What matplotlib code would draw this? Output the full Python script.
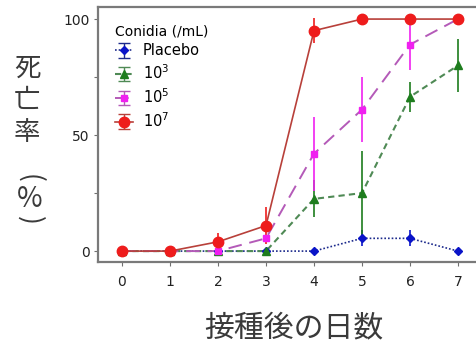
import matplotlib

matplotlib.use("Agg")
import matplotlib.pyplot as plt
import numpy as np

days = [0, 1, 2, 3, 4, 5, 6, 7]

placebo = [0, 0, 0, 0, 0, 5.5, 5.5, 0]
placebo_err = [0, 0, 0, 0, 0, 3.5, 3.5, 0]
c1e3 = [0, 0, 0, 0, 22.5, 25, 66.5, 80]
c1e3_err = [0, 0, 0, 0, 8, 18, 6.5, 11.5]
c1e5 = [0, 0, 0, 5.5, 42, 61, 89, 100]
c1e5_err = [0, 0, 0, 0, 16, 14, 11, 0]
c1e7 = [0, 0, 4, 11, 95, 100, 100, 100]
c1e7_err = [0, 0, 4, 8, 5.5, 0, 0, 0]

SERIES = [
    ("Placebo", placebo, placebo_err, "D", 4.5, "#0a14c8", "#1c2a8c", (0, (1, 1.2)), 1.2),
    ("10$^3$", c1e3, c1e3_err, "^", 6, "#1e7d1e", "#4f8a55", (0, (3, 2)), 1.5),
    ("10$^5$", c1e5, c1e5_err, "s", 5, "#f020f0", "#b45ab8", (0, (7, 4)), 1.4),
    ("10$^7$", c1e7, c1e7_err, "o", 7.5, "#ee1c1c", "#b8403a", "-", 1.2),
]

fig = plt.figure(figsize=(4.77, 3.44), dpi=100)
ax = fig.add_axes([98 / 477, 82 / 344, 384 / 477, 255 / 344])

handles = []
for label, vals, err, marker, ms, mcol, lcol, ls, lw in SERIES:
    ax.errorbar(days, vals, yerr=err, fmt="none", ecolor=mcol, elinewidth=1.2,
                capsize=0, zorder=2)
    ax.plot(days, vals, color=lcol, ls=ls, lw=lw, zorder=3)
    ax.plot(days, vals, ls="none", marker=marker, ms=ms, color=mcol, zorder=4)
    # proxy with caps, only for the legend
    h = ax.errorbar([np.nan], [np.nan], yerr=[1], color=lcol, ls=ls, lw=lw,
                    marker=marker, ms=ms, mfc=mcol, mec=mcol, ecolor=lcol,
                    elinewidth=1.0, capsize=4, label=label)
    handles.append(h)

ax.set_xlim(-0.5, 7.5)
ax.set_ylim(-4.7, 105.2)
ax.set_xticks(days)
ax.set_yticks([0, 50, 100])
ax.set_yticks([25, 75], minor=True)
ax.tick_params(axis="both", which="both", direction="out", length=3,
               width=0.8, color="#707070", labelsize=10, labelcolor="#222222")
ax.tick_params(axis="x", pad=6)
ax.tick_params(axis="y", pad=3)
for side in ["left", "top", "bottom"]:
    ax.spines[side].set_color("#7a7a7a")
    ax.spines[side].set_linewidth(1.6)
ax.spines["right"].set_visible(False)

leg = ax.legend(handles=handles, title="Conidia (/mL)", loc="upper left",
                bbox_to_anchor=(0.03, 0.955), frameon=False, fontsize=10.5,
                title_fontsize=10, handlelength=1.2, handletextpad=0.7,
                labelspacing=0.35, borderaxespad=0)
leg._legend_box.align = "left"

jp = ["Noto Sans CJK JP", "DejaVu Sans"]
# vertical y label, one character per line; the brackets are turned to lie flat
ylab = [("死", 27, 68, 0, 19), ("亡", 27, 100, 0, 19), ("率", 27, 133, 0, 19),
        ("(", 30, 178, -90, 19), ("%", 30, 199, 0, 20), (")", 30, 220, -90, 19)]
for ch, xp, yp, rot, fs in ylab:
    fig.text(xp / 477, 1 - yp / 344, ch, family=jp, fontsize=fs,
             ha="center", va="center", rotation=rot, color="#3a3a3a")

fig.text(294 / 477, 1 - 328 / 344, "接種後の日数", family=jp, fontsize=21.5,
         ha="center", va="center", color="#3a3a3a")

fig.savefig("out.png", dpi=100)
